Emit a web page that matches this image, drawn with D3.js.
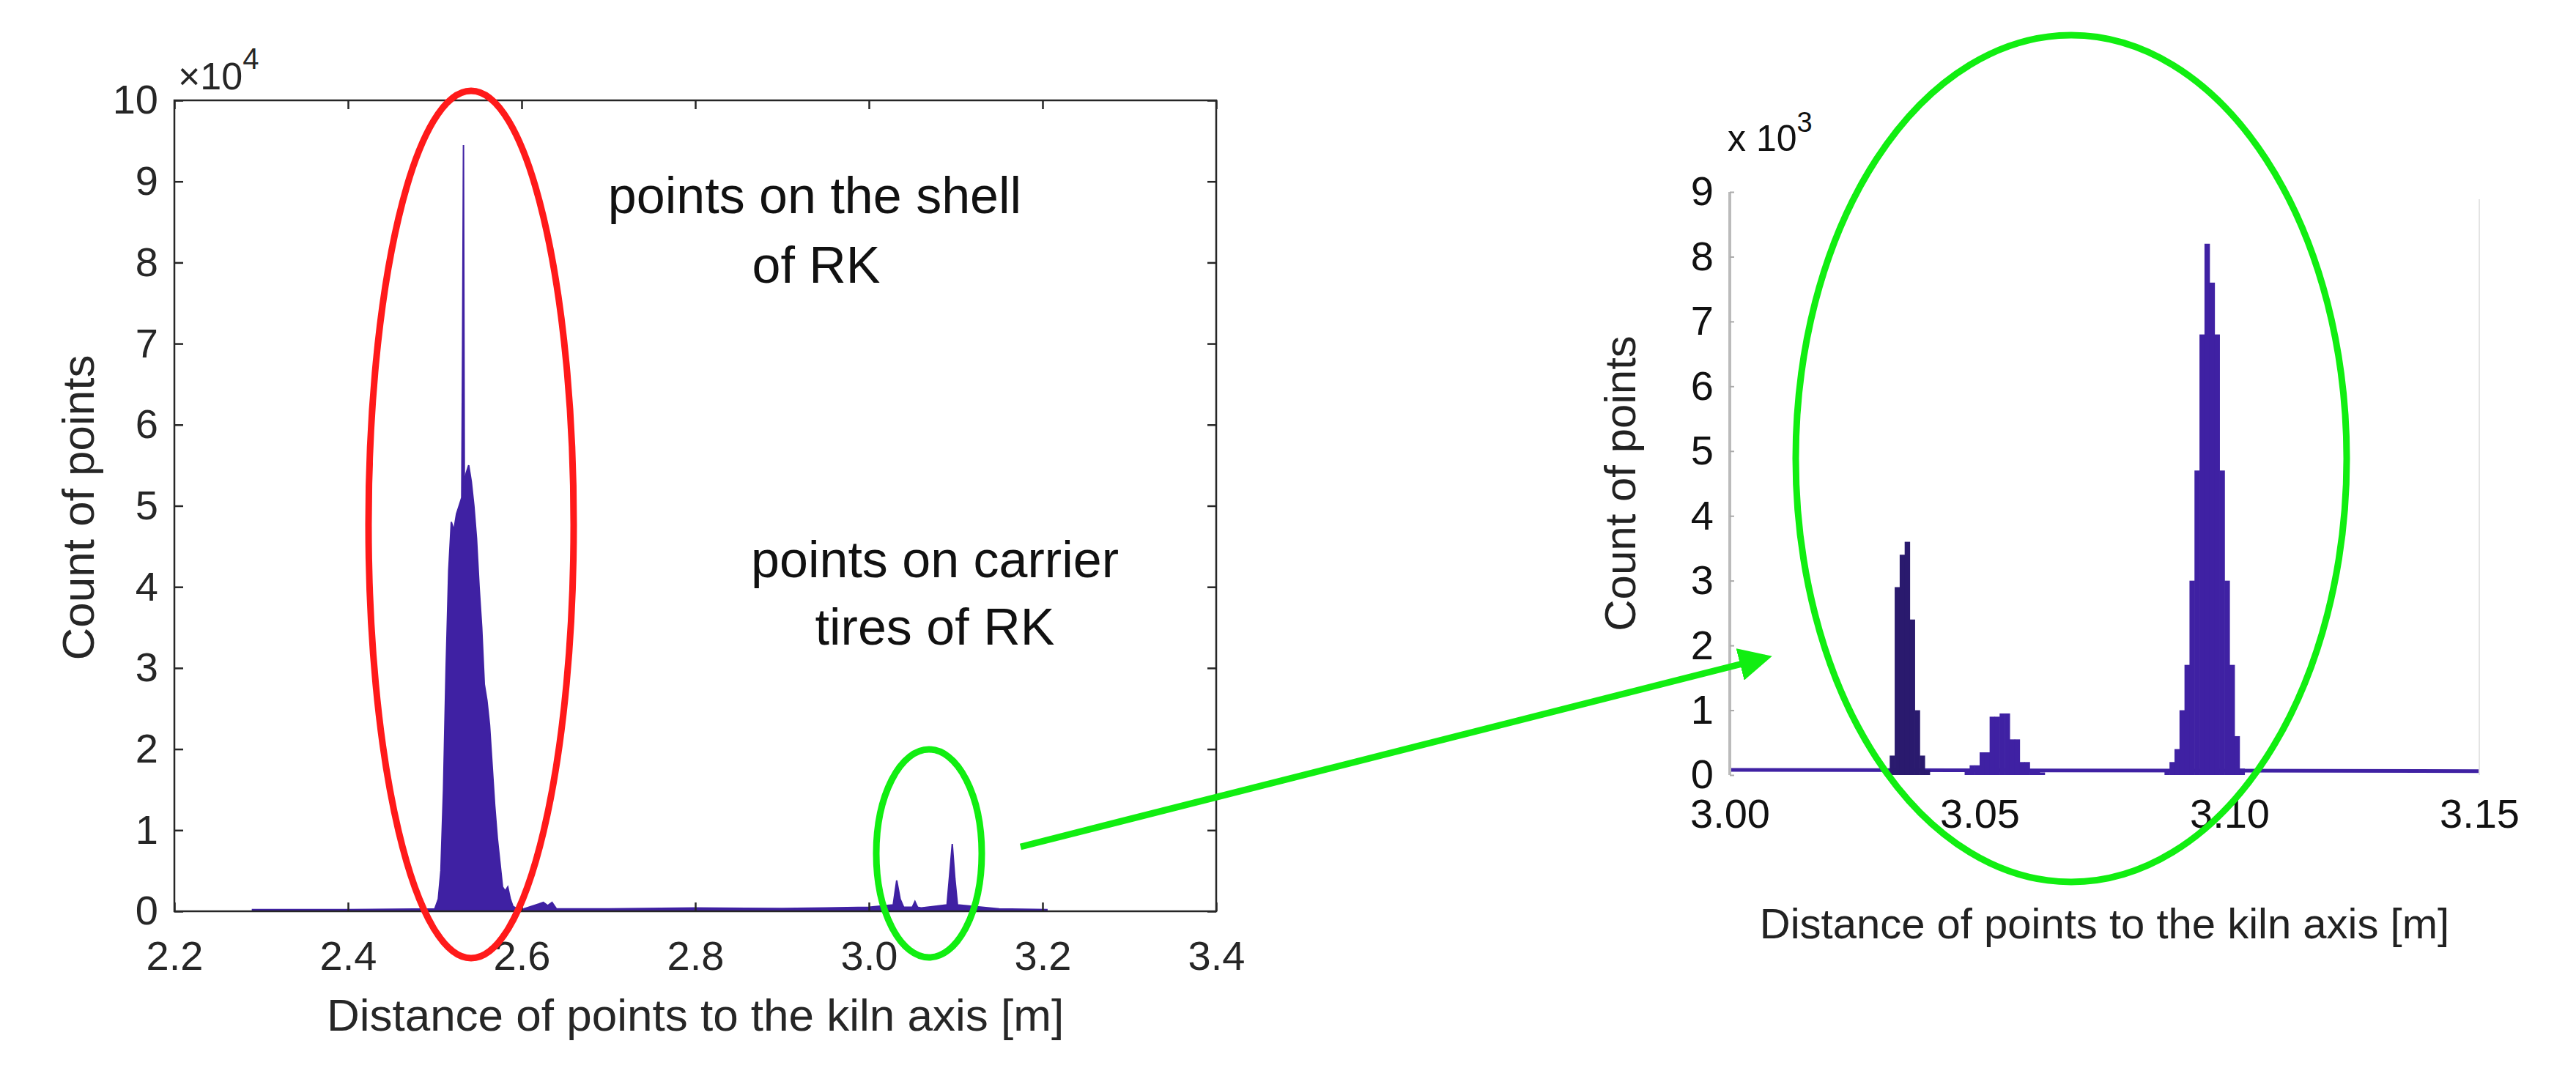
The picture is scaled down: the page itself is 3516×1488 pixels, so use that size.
<!DOCTYPE html>
<html><head><meta charset="utf-8">
<script src="https://cdn.jsdelivr.net/npm/d3@7"></script>
<style>body{margin:0;background:#fff}svg{display:block}text{font-family:Arial,"Liberation Sans",sans-serif}</style>
</head><body>
<script>
// Left overview histogram (distance m, count)
const leftX = [2.290,2.400,2.500,2.504,2.507,2.510,2.513,2.516,2.519,2.522,2.525,2.528,2.531,2.532,2.533,2.534,2.536,2.539,2.542,2.545,2.548,2.551,2.554,2.557,2.560,2.563,2.566,2.569,2.572,2.575,2.578,2.581,2.584,2.587,2.590,2.595,2.600,2.620,2.625,2.630,2.635,2.640,2.700,2.800,2.900,2.950,3.000,3.028,3.032,3.036,3.040,3.050,3.053,3.056,3.060,3.090,3.093,3.096,3.099,3.102,3.150,3.205];
const leftY = [200,200,300,1500,5000,15000,30000,42000,48000,47000,49000,50000,51000,70000,94500,52000,54000,55000,53000,50000,46000,40000,35000,28000,26000,23000,18000,13000,9000,6000,3000,2500,3000,1500,600,300,200,900,1100,700,1100,300,300,400,350,400,500,800,3800,1500,500,500,1200,500,400,800,4500,8300,4000,800,300,200];
const leftXTicks = [2.2,2.4,2.6,2.8,3.0,3.2,3.4];
const leftYTicks = [0,1,2,3,4,5,6,7,8,9,10];
// Right zoomed histogram (bin centre, count), bin width 0.001 m
const rightX = [3.0325,3.0335,3.0345,3.0355,3.0365,3.0375,3.0385,3.0395,
  3.0475,3.0485,3.0495,3.0505,3.0515,3.0525,3.0535,3.0545,3.0555,3.0565,3.0575,3.0585,3.0595,3.0605,3.0615,3.0625,
  3.0875,3.0885,3.0895,3.0905,3.0915,3.0925,3.0935,3.0945,3.0955,3.0965,3.0975,3.0985,3.0995,3.1005,3.1015,3.1025];
const rightY = [300,2900,3400,3600,2400,1000,300,80,
  80,150,150,350,350,900,900,950,950,550,550,200,200,80,80,40,
  80,200,400,1000,1700,3000,4700,6800,8200,7600,6800,4700,3000,1700,600,100];
const rightXTicks = ["3.00","3.05","3.10","3.15"];
const rightYTicks = [0,1,2,3,4,5,6,7,8,9];

const W=3516,H=1488;
const svg=d3.select("body").append("svg").attr("width",W).attr("height",H);
const ink="#262626", fill="#3f21a3", green="#11ee11";

// ---------- left plot ----------
const L={l:238,r:1660,t:137,b:1244};
const xL=d3.scaleLinear().domain([2.2,3.4]).range([L.l,L.r]);
const yL=d3.scaleLinear().domain([0,100000]).range([L.b,L.t]);
const gL=svg.append("g");
const lp=leftX.map((x,i)=>[x,leftY[i]]);
gL.append("path").datum(lp).attr("fill",fill).attr("stroke",fill).attr("stroke-width",2)
  .attr("d",d3.area().x(d=>xL(d[0])).y0(yL(0)).y1(d=>yL(d[1])));
gL.append("rect").attr("x",L.l).attr("y",L.t).attr("width",L.r-L.l).attr("height",L.b-L.t)
  .attr("fill","none").attr("stroke",ink).attr("stroke-width",2.5);
const axB=gL.append("g").attr("transform",`translate(0,${L.b})`)
  .call(d3.axisBottom(xL).tickValues(leftXTicks).tickFormat(d3.format(".1f")).tickSize(-12).tickPadding(38));
const axT=gL.append("g").attr("transform",`translate(0,${L.t})`)
  .call(d3.axisTop(xL).tickValues(leftXTicks).tickFormat("").tickSize(-12));
const axLft=gL.append("g").attr("transform",`translate(${L.l},0)`)
  .call(d3.axisLeft(yL).tickValues(leftYTicks.map(v=>v*1e4)).tickFormat(d=>d/1e4).tickSize(-12).tickPadding(22));
const axR=gL.append("g").attr("transform",`translate(${L.r},0)`)
  .call(d3.axisRight(yL).tickValues(leftYTicks.map(v=>v*1e4)).tickFormat("").tickSize(-12));
[axB,axT,axLft,axR].forEach(a=>{a.select(".domain").remove();a.selectAll("line").attr("stroke",ink).attr("stroke-width",2.5);
  a.selectAll("text").attr("fill",ink).attr("font-size",56);});
axB.selectAll("text").attr("dy","0.75em");
gL.append("text").attr("x",243).attr("y",122).attr("font-size",52).attr("fill",ink)
  .html('×10<tspan dy="-28" font-size="40">4</tspan>');
gL.append("text").attr("x",(L.l+L.r)/2).attr("y",1407).attr("text-anchor","middle").attr("font-size",62).attr("fill",ink)
  .text("Distance of points to the kiln axis [m]");
gL.append("text").attr("transform",`translate(128,693) rotate(-90)`).attr("text-anchor","middle").attr("font-size",62).attr("fill",ink)
  .text("Count of points");
[["points on the shell",1112,291],["of RK",1114,386],["points on carrier",1276,788],["tires of RK",1276,880]].forEach(t=>
  gL.append("text").attr("x",t[1]).attr("y",t[2]).attr("text-anchor","middle").attr("font-size",70).attr("fill","#111").text(t[0]));
svg.append("ellipse").attr("cx",643).attr("cy",716).attr("rx",140).attr("ry",592).attr("fill","none").attr("stroke","#ff1a1a").attr("stroke-width",9);
svg.append("ellipse").attr("cx",1268).attr("cy",1165).attr("rx",72).attr("ry",142).attr("fill","none").attr("stroke",green).attr("stroke-width",9);

// ---------- right plot ----------
const R={l:2361,r:3384,b:1058};
const xR=d3.scaleLinear().domain([3.0,3.15]).range([R.l,R.r]);
const yR=d3.scaleLinear().domain([0,9000]).range([R.b,262]);
const gR=svg.append("g");
gR.append("path").datum([[3.0,80],[3.15,60]]).attr("stroke",fill).attr("stroke-width",5).attr("fill","none")
  .attr("d",d3.line().x(d=>xR(d[0])).y(d=>yR(d[1])));
gR.selectAll("rect.bar").data(rightX).join("rect")
  .attr("x",d=>xR(d-0.0005)).attr("width",xR(3.001)-xR(3.0)+0.6)
  .attr("y",(d,i)=>yR(rightY[i])).attr("height",(d,i)=>yR(0)-yR(rightY[i]))
  .attr("fill",(d,i)=>i<8?"#2a1a6e":fill);
gR.append("line").attr("x1",R.l).attr("x2",R.l).attr("y1",262).attr("y2",R.b).attr("stroke","#bbb").attr("stroke-width",4);
gR.append("line").attr("x1",R.r).attr("x2",R.r).attr("y1",272).attr("y2",R.b).attr("stroke","#e4e4e4").attr("stroke-width",2);
const ayR=gR.append("g").attr("transform",`translate(${R.l},0)`)
  .call(d3.axisLeft(yR).tickValues(rightYTicks.map(v=>v*1000)).tickFormat(d=>d/1000).tickSize(-6).tickPadding(22));
ayR.select(".domain").remove();ayR.selectAll("line").attr("stroke","#aaa").attr("stroke-width",2);
ayR.selectAll("text").attr("font-size",56).attr("fill","#111");
const axRB=gR.append("g").attr("transform",`translate(0,${R.b})`)
  .call(d3.axisBottom(xR).tickValues(rightXTicks.map(Number)).tickFormat((d,i)=>rightXTicks[i]).tickSize(0).tickPadding(30));
axRB.select(".domain").remove();axRB.selectAll("text").attr("font-size",56).attr("fill","#111").attr("dy","0.75em");
gR.append("text").attr("x",2358).attr("y",206).attr("font-size",50).attr("fill","#111")
  .html('x 10<tspan dy="-26" font-size="38">3</tspan>');
gR.append("text").attr("x",(R.l+R.r)/2).attr("y",1281).attr("text-anchor","middle").attr("font-size",58).attr("fill","#222")
  .text("Distance of points to the kiln axis [m]");
gR.append("text").attr("transform",`translate(2232,660) rotate(-90)`).attr("text-anchor","middle").attr("font-size",60).attr("fill","#222")
  .text("Count of points");
svg.append("ellipse").attr("cx",2827).attr("cy",626).attr("rx",376).attr("ry",578).attr("fill","none").attr("stroke",green).attr("stroke-width",9);
// arrow
svg.append("defs").append("marker").attr("id","ah").attr("viewBox","0 0 10 10").attr("refX",8).attr("refY",5)
  .attr("markerWidth",5).attr("markerHeight",5).attr("orient","auto").attr("markerUnits","strokeWidth")
  .append("path").attr("d","M0,0 L10,5 L0,10 z").attr("fill",green);
svg.append("line").attr("x1",1393).attr("y1",1156).attr("x2",2410).attr("y2",898).attr("stroke",green).attr("stroke-width",9).attr("marker-end","url(#ah)");
</script>
</body></html>
